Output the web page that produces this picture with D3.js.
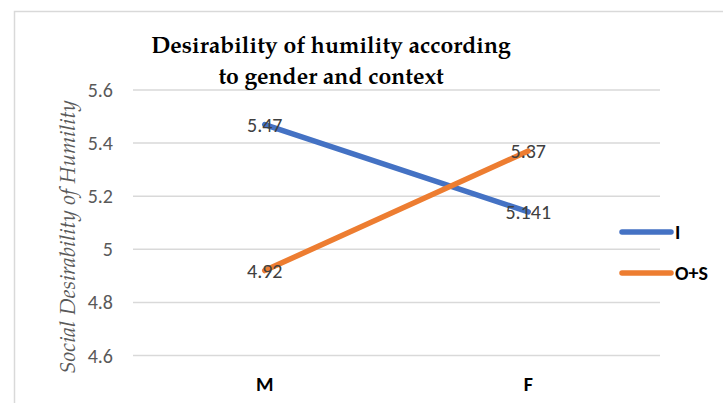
<!DOCTYPE html>
<html><head><meta charset="utf-8">
<script src="https://cdn.jsdelivr.net/npm/d3@7"></script>
<style>body{margin:0;background:#fff}</style>
</head><body>
<svg id="c" width="723" height="403"></svg>
<script>
const categories = ["M", "F"];
const seriesNames = ["I", "O+S"];
const seriesI = [5.47, 5.141];
const seriesOS = [4.92, 5.37];
const labelsI = ["5.47", "5.141"];
const labelsOS = ["4.92", "5.37"];
const yTicks = [4.6, 4.8, 5.0, 5.2, 5.4, 5.6];
const yTickLabels = ["4.6", "4.8", "5", "5.2", "5.4", "5.6"];
const colors = ["#4472C4", "#ED7D31"];

const sans = "Carlito, Calibri, 'Open Sans', sans-serif";
const serif = "'Palatino Linotype', 'Book Antiqua', 'TeX Gyre Pagella', 'DejaVu Serif', serif";

const svg = d3.select("#c");
svg.append("rect").attr("x", 14.5).attr("y", 11.5).attr("width", 720).attr("height", 400)
  .attr("fill", "none").attr("stroke", "#d9d9d9").attr("stroke-width", 1.5);

const x = d3.scaleBand().domain(categories).range([133, 660]);
const y = d3.scaleLinear().domain([4.6, 5.6]).range([355.5, 90]);

svg.append("g").selectAll("line").data(yTicks).join("line")
  .attr("x1", 133).attr("x2", 660)
  .attr("y1", d => y(d)).attr("y2", d => y(d))
  .attr("stroke", "#d9d9d9").attr("stroke-width", 1.5);

svg.append("g").selectAll("text").data(yTicks).join("text")
  .attr("x", 113).attr("y", d => y(d)).attr("dy", "0.35em")
  .attr("text-anchor", "end")
  .attr("font-family", sans).attr("font-size", 20)
  .attr("fill", "#595959")
  .text((d, i) => yTickLabels[i]);

svg.append("g").selectAll("text").data(categories).join("text")
  .attr("x", d => x(d) + x.bandwidth() / 2).attr("y", 391)
  .attr("text-anchor", "middle")
  .attr("font-family", sans).attr("font-size", 20)
  .attr("font-weight", "bold").attr("fill", "#000")
  .text(d => d);

const title = svg.append("text").attr("text-anchor", "middle")
  .attr("font-family", serif)
  .attr("font-weight", "bold").attr("font-size", 23).attr("fill", "#000");
title.append("tspan").attr("x", 331).attr("y", 53).text("Desirability of humility according");
title.append("tspan").attr("x", 331).attr("y", 84).text("to gender and context");

svg.append("text")
  .attr("transform", "translate(75,237) rotate(-90)")
  .attr("text-anchor", "middle")
  .attr("font-family", serif)
  .attr("font-style", "italic").attr("font-size", 22).attr("fill", "#595959")
  .text("Social Desirability of Humility");

const line = d3.line().x((d, i) => x(categories[i]) + x.bandwidth() / 2).y(d => y(d));
const series = [seriesI, seriesOS];
const labels = [labelsI, labelsOS];
series.forEach((s, k) => {
  svg.append("path").datum(s).attr("d", line)
    .attr("fill", "none").attr("stroke", colors[k]).attr("stroke-width", 5.5)
    .attr("stroke-linecap", "round");
});
series.forEach((s, k) => {
  svg.append("g").selectAll("text").data(s).join("text")
    .attr("x", (d, i) => x(categories[i]) + x.bandwidth() / 2)
    .attr("y", d => y(d)).attr("dy", "0.35em")
    .attr("text-anchor", "middle")
    .attr("font-family", sans).attr("font-size", 20)
    .attr("fill", "#404040")
    .text((d, i) => labels[k][i]);
});

const lg = svg.append("g");
seriesNames.forEach((n, k) => {
  const ly = 232 + k * 41;
  lg.append("line").attr("x1", 622).attr("x2", 671).attr("y1", ly).attr("y2", ly)
    .attr("stroke", colors[k]).attr("stroke-width", 5.5).attr("stroke-linecap", "round");
  lg.append("text").attr("x", 675).attr("y", ly).attr("dy", "0.35em")
    .attr("font-family", sans).attr("font-size", 20)
    .attr("font-weight", "bold").attr("fill", "#000").text(n);
});
</script>
</body></html>
